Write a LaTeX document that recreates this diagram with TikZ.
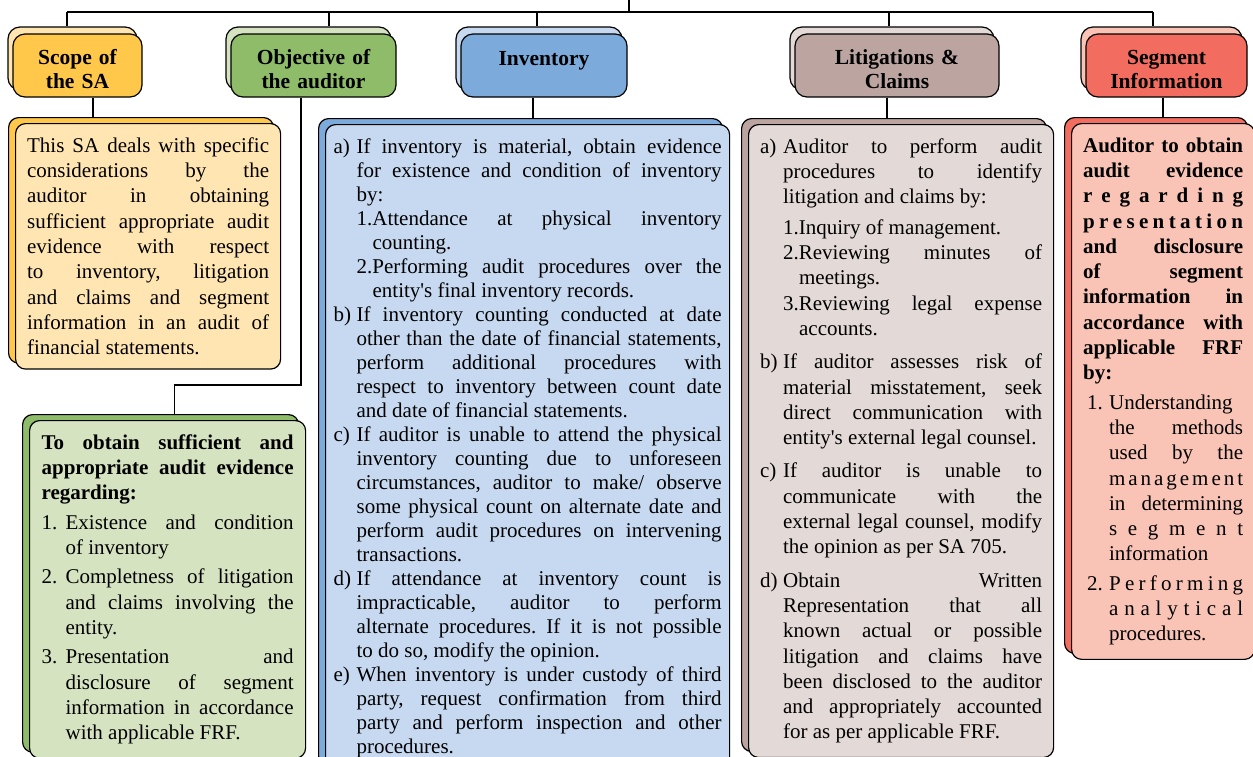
\documentclass[tikz,border=0pt]{standalone}
\usepackage{fontspec}
\setmainfont{Liberation Serif}
\usetikzlibrary{shapes,shadows}

\definecolor{scopeD}{HTML}{FFC84B}
\definecolor{scopeL}{HTML}{FFE5B1}
\definecolor{objD}{HTML}{8EBC69}
\definecolor{objL}{HTML}{D5E3C1}
\definecolor{invD}{HTML}{7CAADB}
\definecolor{invL}{HTML}{C6D9F0}
\definecolor{litD}{HTML}{BCA5A1}
\definecolor{litL}{HTML}{E3D9D7}
\definecolor{segD}{HTML}{F26D60}
\definecolor{segL}{HTML}{F9C4B6}

\tolerance=10000 \pretolerance=-1 \hyphenpenalty=10000 \frenchspacing
\newlength\labw
\newcommand\bodyfont{\fontsize{21}{25.3}\selectfont}
\newcommand\firstitm[2]{\hangindent=\labw\hangafter=1\leavevmode\makebox[\labw][l]{#1}#2}
\newcommand\itm[3][0pt]{\par\vspace{#1}\leftskip=0pt\hangindent=\labw\hangafter=1\noindent\makebox[\labw][l]{#2}#3}
\newcommand\subitm[3][0pt]{\par\vspace{#1}\leftskip=\labw\hangindent=16pt\hangafter=1\noindent#2#3}
\def\spreadout#1{\spreadloop#1\spreadend}
\def\spreadloop#1#2\spreadend{#1\ifx\relax#2\relax\else\nobreak\hfill\spreadloop#2\spreadend\fi}

\tikzstyle{head} = [rectangle, draw, line width=1.2pt, rounded corners=12pt,
    minimum height=63pt, inner sep=2pt, align=center, text height=23pt,
    font=\fontsize{21.5}{24}\selectfont\bfseries]
\tikzstyle{body} = [rectangle, draw, line width=1.2pt, rounded corners=10pt,
    anchor=north west, inner ysep=14pt, align=justify, font=\bodyfont]
\tikzstyle{line} = [draw, line width=1.2pt]
\tikzset{
  headback/.style={copy shadow={shadow xshift=-5pt, shadow yshift=7pt,
      fill=#1, draw=black, line width=1.2pt}},
  bodyback/.style={copy shadow={shadow xshift=-7pt, shadow yshift=6pt,
      fill=#1, draw=black, line width=1.2pt}}
}

\begin{document}
\begin{tikzpicture}[x=1pt, y=-1pt]
    \useasboundingbox (0,0) rectangle (1253,756);
    % Place nodes
    \node [head, headback=scopeL, fill=scopeD, text width=125pt] (hscope) at (77.5,65.5) {Scope of\\the SA};
    \node [head, headback=objL, fill=objD, text width=161pt] (hobj) at (313.5,65.5) {Objective of\\the auditor};
    \node [head, headback=invL, fill=invD, text width=162pt] (hinv) at (544,65.5) {Inventory\\\mbox{}};
    \node [head, headback=litL, fill=litD, text width=200pt] (hlit) at (897,65.5) {Litigations \&\\Claims};
    \node [head, headback=segL, fill=segD, text width=157pt] (hseg) at (1166.5,65.5) {Segment\\Information};

    \node [body, bodyback=scopeD, fill=scopeL, text width=242pt, inner xsep=11.5pt] (bscope) at (15,123) {This SA deals with specific\linebreak considerations by the\linebreak auditor in obtaining\linebreak sufficient appropriate audit\linebreak evidence with respect\linebreak to inventory, litigation\linebreak and claims and segment\linebreak information in an audit of\linebreak financial statements.\par};

    \node [body, bodyback=objD, fill=objL, text width=252pt, inner xsep=12pt] (bobj) at (29,420) {\setlength\labw{24pt}%
      {\bfseries To obtain sufficient and\linebreak appropriate audit evidence\linebreak regarding:}
      \itm[4pt]{1.}{Existence and condition\linebreak of inventory}
      \itm[4pt]{2.}{Completness of litigation\linebreak and claims involving the\linebreak entity.}
      \itm[4pt]{3.}{Presentation and\linebreak disclosure of segment\linebreak information in accordance\linebreak with applicable FRF.}\par};

    \node [body, bodyback=invD, fill=invL, text width=388pt, inner xsep=8pt, font=\fontsize{21}{24}\selectfont] (binv) at (325,124) {\setlength\labw{23pt}%
      \firstitm{a)}{If inventory is material, obtain evidence\linebreak for existence and condition of inventory\linebreak by:}
      \subitm{1.}{Attendance at physical inventory\linebreak counting.}
      \subitm{2.}{Performing audit procedures over the\linebreak entity\textquotesingle s final inventory records.}
      \itm{b)}{If inventory counting conducted at date\linebreak other than the date of financial statements,\linebreak perform additional procedures with\linebreak respect to inventory between count date\linebreak and date of financial statements.}
      \itm{c)}{If auditor is unable to attend the physical\linebreak inventory counting due to unforeseen\linebreak circumstances, auditor to make/ observe\linebreak some physical count on alternate date and\linebreak perform audit procedures on intervening\linebreak transactions.}
      \itm{d)}{If attendance at inventory count is\linebreak impracticable, auditor to perform\linebreak alternate procedures. If it is not possible\linebreak to do so, modify the opinion.}
      \itm{e)}{When inventory is under custody of third\linebreak party, request confirmation from third\linebreak party and perform inspection and other\linebreak procedures.}\par};

    \node [body, bodyback=litD, fill=litL, text width=282pt, inner xsep=11.5pt] (blit) at (748,124) {\setlength\labw{23pt}%
      \firstitm{a)}{Auditor to perform audit\linebreak procedures to identify\linebreak litigation and claims by:}
      \subitm[5pt]{1.}{Inquiry of management.}
      \subitm{2.}{Reviewing minutes of\linebreak meetings.}
      \subitm{3.}{Reviewing legal expense\linebreak accounts.}
      \itm[8pt]{b)}{If auditor assesses risk of\linebreak material misstatement, seek\linebreak direct communication with\linebreak entity\textquotesingle s external legal counsel.}
      \itm[8pt]{c)}{If auditor is unable to\linebreak communicate with the\linebreak external legal counsel, modify\linebreak the opinion as per SA 705.}
      \itm[8pt]{d)}{Obtain Written\linebreak Representation that all\linebreak known actual or possible\linebreak litigation and claims have\linebreak been disclosed to the auditor\linebreak and appropriately accounted\linebreak for as per applicable FRF.}\par};

    \node [body, bodyback=segD, fill=segL, text width=160pt, inner xsep=11.5pt] (bseg) at (1071,123) {\setlength\labw{26pt}%
      {\bfseries Auditor to obtain\linebreak audit evidence\linebreak \spreadout{regarding}\linebreak \spreadout{presentation}\linebreak and disclosure\linebreak of segment\linebreak information in\linebreak accordance with\linebreak applicable FRF\linebreak by:}
      \itm[4pt]{\hspace{4pt}1.}{Understanding\linebreak the methods\linebreak used by the\linebreak \spreadout{management}\linebreak in determining\linebreak \spreadout{segment}\linebreak information}
      \itm[4pt]{\hspace{4pt}2.}{\spreadout{Performing}\linebreak \spreadout{analytical}\linebreak procedures.}\par};

    % Draw edges
    \coordinate (root) at (629,0);
    \coordinate (bus) at (629,12);
    \coordinate (bend) at (0,385);
    \path [line] (root) -- (bus);
    \path [line] ([xshift=-10.5pt]hscope.north |- bus) -- ([xshift=-13.5pt]hseg.north |- bus);
    \foreach \n/\d in {hscope/-10.5, hobj/15.5, hinv/-7, hlit/-8, hseg/-13.5}
        \path [line] ([xshift=\d pt]\n.north |- bus) -- ([xshift=\d pt, yshift=7pt]\n.north);
    \path [line] ([xshift=15.5pt]hscope.south) -- ([xshift=15.5pt, yshift=6pt]hscope.south |- bscope.north);
    \path [line] ([xshift=-11pt]hinv.south) -- ([xshift=-11pt, yshift=6pt]hinv.south |- binv.north);
    \path [line] ([xshift=-10pt]hlit.south) -- ([xshift=-10pt, yshift=6pt]hlit.south |- blit.north);
    \path [line] ([xshift=-3.5pt]hseg.south) -- ([xshift=-3.5pt, yshift=6pt]hseg.south |- bseg.north);
    \path [line] ([xshift=-12.5pt]hobj.south) -- ([xshift=-12.5pt]hobj.south |- bend) -| ([xshift=7pt, yshift=6pt]bobj.north);
\end{tikzpicture}
\end{document}
